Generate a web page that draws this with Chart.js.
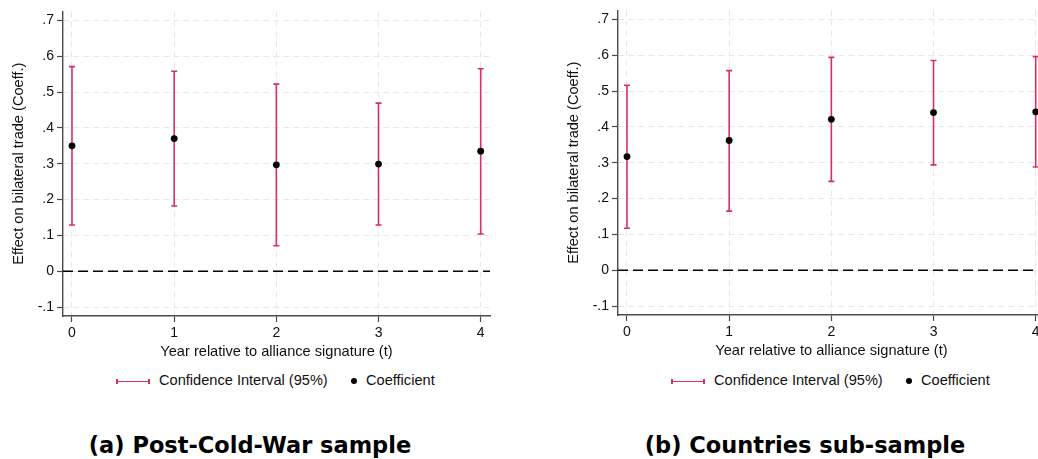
<!DOCTYPE html>
<html>
<head>
<meta charset="utf-8">
<script src="https://cdn.jsdelivr.net/npm/chart.js@4.4.1/dist/chart.umd.min.js"></script>
<style>
  html, body { margin:0; padding:0; background:#fff; width:1038px; height:459px; overflow:hidden; }
  .box { position:absolute; }
  .leg { position:absolute; top:372px; font:14.6px "Liberation Sans", Arial, sans-serif; color:#111; white-space:nowrap; }
  .ci { position:absolute; top:9px; width:34px; height:0; border-top:1.6px solid #d7305e; }
  .ci:before, .ci:after { content:''; position:absolute; top:-3px; width:1.6px; height:5px; background:#d7305e; }
  .ci:before { left:0; } .ci:after { right:0; }
  .dot { position:absolute; top:6px; width:6px; height:6px; border-radius:50%; background:#000; }
  .cap { position:absolute; top:432px; font:bold 22.5px "DejaVu Sans", sans-serif; color:#000; white-space:nowrap; transform:translateX(-50%); }
</style>
</head>
<body>
<div class="box" style="left:0;top:0"><canvas id="chartA" width="500" height="365"></canvas></div>
<div class="box" style="left:555px;top:-1px"><canvas id="chartB" width="500" height="365"></canvas></div>

<div class="leg" style="left:116px"><span class="ci"></span><span style="position:absolute;left:43px">Confidence Interval (95%)</span><span class="dot" style="left:235px"></span><span style="position:absolute;left:250px">Coefficient</span></div>
<div class="leg" style="left:671px"><span class="ci"></span><span style="position:absolute;left:43px">Confidence Interval (95%)</span><span class="dot" style="left:235px"></span><span style="position:absolute;left:250px">Coefficient</span></div>

<div class="cap" style="left:250px">(a) Post-Cold-War sample</div>
<div class="cap" style="left:805px">(b) Countries sub-sample</div>

<script>
// x categories: years after signature
const years = [0, 1, 2, 3, 4];
const yTicks = [-0.1, 0, 0.1, 0.2, 0.3, 0.4, 0.5, 0.6, 0.7];
const yTickLabels = ['-.1', '0', '.1', '.2', '.3', '.4', '.5', '.6', '.7'];

// (a) Post-Cold-War sample
const coefA = [0.350, 0.370, 0.297, 0.299, 0.335];
const loA   = [0.129, 0.182, 0.071, 0.129, 0.104];
const hiA   = [0.571, 0.558, 0.522, 0.469, 0.565];

// (b) Countries sub-sample
const coefB = [0.317, 0.362, 0.421, 0.440, 0.442];
const loB   = [0.117, 0.165, 0.248, 0.294, 0.288];
const hiB   = [0.516, 0.557, 0.594, 0.585, 0.596];

const xMin = -0.088, xMax = 4.091;
const yMin = -0.125, yMax = 0.725;
const RED = '#d7305e';
const AXIS = '#4a4a4a';
const FONT = '"Liberation Sans", Arial, sans-serif';

function makeChart(id, coef, lo, hi){
  const ciPts = [];
  years.forEach((x, i)=>{
    ciPts.push({x, y:lo[i]}, {x, y:hi[i]}, {x, y:null});
  });
  return new Chart(document.getElementById(id), {
    type: 'scatter',
    data: { datasets: [
      { label:'Coefficient', data: years.map((x,i)=>({x, y:coef[i]})),
        pointRadius:3.4, pointBackgroundColor:'#000', pointBorderColor:'#000', pointBorderWidth:0 },
      { label:'Confidence Interval (95%)', data: ciPts, showLine:true, spanGaps:false,
        borderColor:RED, borderWidth:1.6, pointStyle:'line', pointRadius:3,
        pointBorderColor:RED, pointBorderWidth:1.6 },
      { label:'zero', data:[{x:xMin, y:0}, {x:xMax, y:0}], showLine:true,
        borderColor:'#000', borderWidth:1.5, borderDash:[10,5], pointRadius:0 }
    ]},
    options: {
      responsive:false, animation:false, devicePixelRatio:1,
      layout: { padding:{ top:11, right:10, left:0, bottom:0 } },
      plugins: { legend:{display:false}, tooltip:{enabled:false} },
      scales: {
        x: {
          type:'linear', min:xMin, max:xMax,
          afterFit: s=>{ s.height = 49; },
          afterBuildTicks: s=>{ s.ticks = years.map(v=>({value:v})); },
          ticks: { callback: v=>String(v), font:{family:FONT, size:14}, color:'#111', padding:3, maxRotation:0 },
          grid: { color:'#e8e8e8', lineWidth:1, tickColor:AXIS, tickLength:6, tickWidth:1.2 },
          border: { color:AXIS, width:1.4, dash:[6,4] },
          title: { display:true, text:'Year relative to alliance signature (t)', font:{family:FONT, size:14.6}, color:'#111', padding:{top:0, bottom:4} }
        },
        y: {
          min:yMin, max:yMax,
          afterFit: s=>{ s.width = 63; },
          afterBuildTicks: s=>{ s.ticks = yTicks.map(v=>({value:v})); },
          ticks: { callback: (v,i)=>yTickLabels[i], font:{family:FONT, size:14}, color:'#111', padding:3 },
          grid: { color:'#e8e8e8', lineWidth:1, tickColor:AXIS, tickLength:6, tickWidth:1.2 },
          border: { color:AXIS, width:1.4, dash:[6,4] },
          title: { display:true, text:'Effect on bilateral trade (Coeff.)', font:{family:FONT, size:14.6}, color:'#111', padding:{top:10, bottom:0} }
        }
      }
    }
  });
}

makeChart('chartA', coefA, loA, hiA);
makeChart('chartB', coefB, loB, hiB);
</script>
</body>
</html>
